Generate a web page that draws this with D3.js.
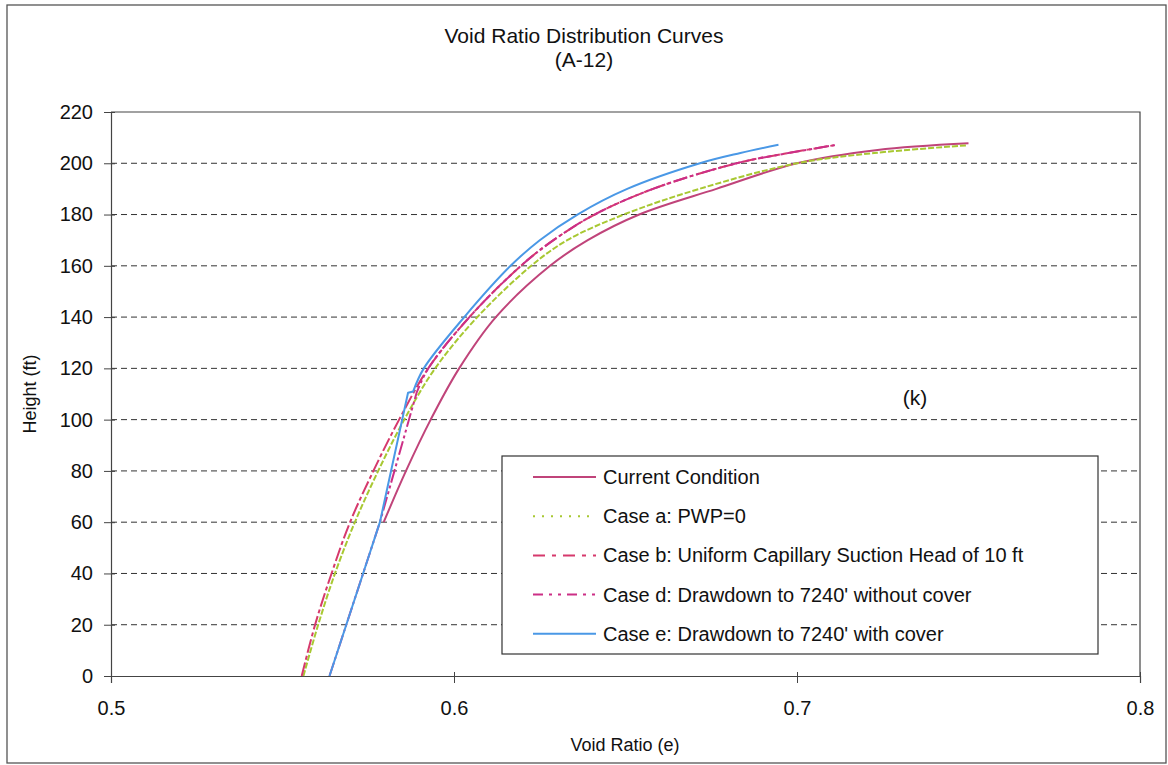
<!DOCTYPE html>
<html lang="en">
    <head>
        <meta charset="utf-8">
        <title>Void Ratio Distribution Curves</title>
        <script type="text/javascript" src="https://d3js.org/d3.v7.min.js"></script>
        <style>
          body { margin: 0; background: #fff; }
          text { font-family: "Liberation Sans", Arial, sans-serif; fill: #111; }
        </style>
    </head>
    <body>
        <script type="text/javascript">

        var w = 1168;
        var h = 765;

        // tick labels
        var xTicks = [0.5, 0.6, 0.7, 0.8];
        var yTicks = [0, 20, 40, 60, 80, 100, 120, 140, 160, 180, 200, 220];

        // series names
        var seriesNames = ["Current Condition", "Case a: PWP=0",
                           "Case b: Uniform Capillary Suction Head of 10 ft",
                           "Case d: Drawdown to 7240' without cover",
                           "Case e: Drawdown to 7240' with cover"];

        // values (void ratio e, height ft)
        var currentE = [0.5795, 0.5860, 0.5932, 0.6015, 0.6122, 0.6280, 0.6390, 0.6540, 0.6765, 0.7000, 0.7235, 0.7500];
        var currentH = [60, 80, 100, 120, 140, 160, 170, 180, 190, 200, 205.2, 207.8];

        var caseAE = [0.5561, 0.5604, 0.5653, 0.5711, 0.5779, 0.5855, 0.5945, 0.6068, 0.6225, 0.6330, 0.6495, 0.6715, 0.7000, 0.7225, 0.7495];
        var caseAH = [0, 20, 40, 60, 80, 100, 120, 140, 160, 170, 180, 190, 200, 204, 207];

        var caseBE = [0.5556, 0.5595, 0.5643, 0.5697, 0.5765, 0.5840, 0.5925, 0.6045, 0.6195, 0.6290, 0.6410, 0.6580, 0.6824, 0.6975, 0.7116];
        var caseBH = [0, 20, 40, 60, 80, 100, 120, 140, 160, 170, 180, 190, 200, 204, 207.2];

        var caseDE = [0.5637, 0.5686, 0.5735, 0.5784, 0.5891, 0.5925, 0.6045, 0.6195, 0.6290, 0.6410, 0.6580, 0.6824, 0.6975, 0.7116];
        var caseDH = [0, 20, 40, 60, 110.5, 120, 140, 160, 170, 180, 190, 200, 204, 207.2];

        var caseEE = [0.5637, 0.5686, 0.5735, 0.5784, 0.5866, 0.5881, 0.5912, 0.6030, 0.6165, 0.6250, 0.6360, 0.6505, 0.6717, 0.6835, 0.6946];
        var caseEH = [0, 20, 40, 60, 110.5, 111, 120, 140, 160, 170, 180, 190, 200, 204, 207.2];

        var colors = ["#c0447a", "#a8c832", "#d6396c", "#cc2f86", "#4a98e6"];
        var curveDash = [null, "6,2", "14,3,4,3", "14,3,3,3,3,3", null];
        var legendDash = [null, "2,7", "12,7,4,7", "10,6,3,6,3,6", null];
        // leading points joined by straight segments (drawdown cases), rest smooth
        var straightEnd = [0, 0, 0, 4, 5];

        function toPoints(es, hs) {
          return es.map(function(e, i) { return {e: e, h: hs[i]}; });
        }
        var series = [
          toPoints(currentE, currentH),
          toPoints(caseAE, caseAH),
          toPoints(caseBE, caseBH),
          toPoints(caseDE, caseDH),
          toPoints(caseEE, caseEH)
        ];

        var svg = d3.select("body")
                    .append("svg")
                    .attr("width", w)
                    .attr("height", h);

        // outer chart frame
        svg.append("rect")
           .attr("x", 7).attr("y", 5)
           .attr("width", 1159).attr("height", 758)
           .attr("fill", "none")
           .attr("stroke", "#555")
           .attr("stroke-width", 1.3);

        var xScale = d3.scaleLinear().domain([0.5, 0.8]).range([111, 1140]);
        var yScale = d3.scaleLinear().domain([0, 220]).range([676, 112]);

        // gridlines
        svg.append("g").selectAll("line")
           .data(yTicks.filter(function(d) { return d > 0 && d < 220; }))
           .enter()
           .append("line")
           .attr("x1", xScale(0.5)).attr("x2", xScale(0.8))
           .attr("y1", function(d) { return yScale(d); })
           .attr("y2", function(d) { return yScale(d); })
           .attr("stroke", "#333")
           .attr("stroke-width", 1)
           .attr("stroke-dasharray", "6,4");

        // plot frame top and right
        svg.append("path")
           .attr("d", "M" + xScale(0.5) + "," + yScale(220) + "H" + xScale(0.8) + "V" + yScale(0))
           .attr("fill", "none")
           .attr("stroke", "#444")
           .attr("stroke-width", 1.2);

        var yAxis = svg.append("g")
           .attr("transform", "translate(" + xScale(0.5) + ",0)")
           .call(d3.axisLeft(yScale).tickValues(yTicks).tickSize(7).tickPadding(11).tickFormat(d3.format("d")));
        yAxis.selectAll(".tick line").attr("x1", 4);

        var xAxis = svg.append("g")
           .attr("transform", "translate(0," + yScale(0) + ")")
           .call(d3.axisBottom(xScale).tickValues(xTicks).tickSize(7).tickPadding(18).tickFormat(d3.format(".1f")));
        xAxis.selectAll(".tick line").attr("y1", -4);

        svg.selectAll(".domain").attr("stroke", "#444").attr("stroke-width", 1.2);
        svg.selectAll(".tick line").attr("stroke", "#444");
        svg.selectAll(".tick text")
           .style("font-family", "'Liberation Sans', Arial, sans-serif")
           .style("font-size", "20px")
           .attr("fill", "#111");

        // curves
        var straight = d3.line()
                     .x(function(d) { return xScale(d.e); })
                     .y(function(d) { return yScale(d.h); });
        var smooth = d3.line()
                     .x(function(d) { return xScale(d.e); })
                     .y(function(d) { return yScale(d.h); })
                     .curve(d3.curveCatmullRom.alpha(0.5));

        function seriesPath(d, i) {
          var k = straightEnd[i];
          var p = smooth(d.slice(k));
          if (k > 0) p = straight(d.slice(0, k + 1)) + p.replace(/^M[^A-Za-z]*/, "");
          return p;
        }

        svg.append("g").selectAll("path")
           .data(series)
           .enter()
           .append("path")
           .attr("d", seriesPath)
           .attr("fill", "none")
           .attr("stroke", function(d, i) { return colors[i]; })
           .attr("stroke-width", 2)
           .attr("stroke-linejoin", "round")
           .attr("stroke-dasharray", function(d, i) { return curveDash[i]; });

        // titles
        svg.append("text")
           .attr("x", 584).attr("y", 43)
           .attr("text-anchor", "middle")
           .style("font-family", "'Liberation Sans Narrow', 'Liberation Sans', Arial, sans-serif")
           .style("font-size", "21px")
           .text("Void Ratio Distribution Curves");
        svg.append("text")
           .attr("x", 584).attr("y", 67)
           .attr("text-anchor", "middle")
           .style("font-family", "'Liberation Sans Narrow', 'Liberation Sans', Arial, sans-serif")
           .style("font-size", "21px")
           .text("(A-12)");

        svg.append("text")
           .attr("x", 625).attr("y", 751)
           .attr("text-anchor", "middle")
           .style("font-size", "18px")
           .text("Void Ratio (e)");

        svg.append("text")
           .attr("transform", "translate(36,394) rotate(-90)")
           .attr("text-anchor", "middle")
           .style("font-size", "18px")
           .text("Height (ft)");

        svg.append("text")
           .attr("x", 915).attr("y", 405)
           .attr("text-anchor", "middle")
           .style("font-size", "21px")
           .text("(k)");

        // legend
        var legend = svg.append("g");
        legend.append("rect")
              .attr("x", 502).attr("y", 456)
              .attr("width", 596).attr("height", 198)
              .attr("fill", "#fff")
              .attr("stroke", "#333")
              .attr("stroke-width", 1.2);

        var items = legend.selectAll("g.item")
              .data(seriesNames)
              .enter()
              .append("g")
              .attr("class", "item")
              .attr("transform", function(d, i) { return "translate(0," + (477 + i * 39.2) + ")"; });

        items.append("line")
             .attr("x1", 533).attr("x2", 596)
             .attr("y1", 0).attr("y2", 0)
             .attr("stroke", function(d, i) { return colors[i]; })
             .attr("stroke-width", 2)
             .attr("stroke-dasharray", function(d, i) { return legendDash[i]; });

        items.append("text")
             .attr("x", 603).attr("y", 7)
             .style("font-size", "20px")
             .text(function(d) { return d; });

        </script>
    </body>
</html>
